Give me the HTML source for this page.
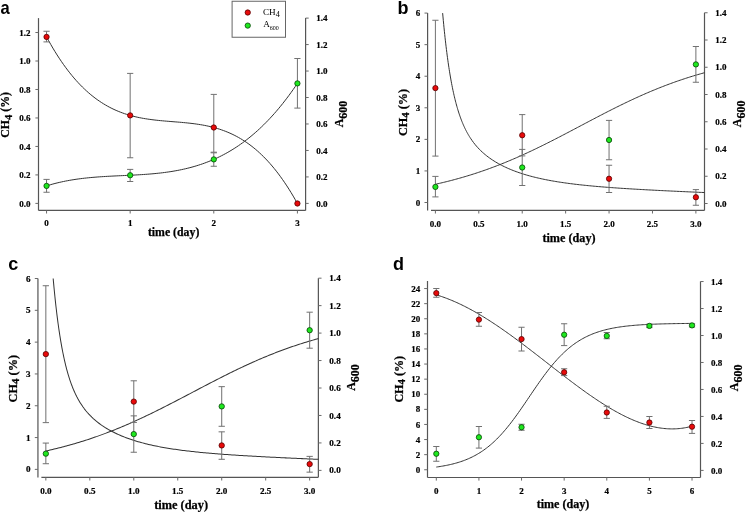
<!DOCTYPE html>
<html><head><meta charset="utf-8"><style>
html,body{margin:0;padding:0;background:#fff;}
body{width:746px;height:512px;overflow:hidden;}
svg{display:block;will-change:transform;}
</style></head><body>
<svg width="746" height="512" viewBox="0 0 746 512">
<rect width="746" height="512" fill="#fff"/>
<line x1="38.50" y1="18.10" x2="38.50" y2="210.40" stroke="#555" stroke-width="1.2"/>
<line x1="38.50" y1="210.40" x2="305.60" y2="210.40" stroke="#555" stroke-width="1.2"/>
<line x1="305.60" y1="18.10" x2="305.60" y2="210.40" stroke="#555" stroke-width="1.2"/>
<line x1="35.40" y1="203.40" x2="38.50" y2="203.40" stroke="#6a6a6a" stroke-width="1.0"/>
<text x="30.50" y="206.50" font-size="9" text-anchor="end" font-weight="bold" font-family='"Liberation Serif", serif' stroke="#000" stroke-width="0.2" >0.0</text>
<line x1="35.40" y1="174.92" x2="38.50" y2="174.92" stroke="#6a6a6a" stroke-width="1.0"/>
<text x="30.50" y="178.02" font-size="9" text-anchor="end" font-weight="bold" font-family='"Liberation Serif", serif' stroke="#000" stroke-width="0.2" >0.2</text>
<line x1="35.40" y1="146.44" x2="38.50" y2="146.44" stroke="#6a6a6a" stroke-width="1.0"/>
<text x="30.50" y="149.54" font-size="9" text-anchor="end" font-weight="bold" font-family='"Liberation Serif", serif' stroke="#000" stroke-width="0.2" >0.4</text>
<line x1="35.40" y1="117.96" x2="38.50" y2="117.96" stroke="#6a6a6a" stroke-width="1.0"/>
<text x="30.50" y="121.06" font-size="9" text-anchor="end" font-weight="bold" font-family='"Liberation Serif", serif' stroke="#000" stroke-width="0.2" >0.6</text>
<line x1="35.40" y1="89.48" x2="38.50" y2="89.48" stroke="#6a6a6a" stroke-width="1.0"/>
<text x="30.50" y="92.58" font-size="9" text-anchor="end" font-weight="bold" font-family='"Liberation Serif", serif' stroke="#000" stroke-width="0.2" >0.8</text>
<line x1="35.40" y1="61.00" x2="38.50" y2="61.00" stroke="#6a6a6a" stroke-width="1.0"/>
<text x="30.50" y="64.10" font-size="9" text-anchor="end" font-weight="bold" font-family='"Liberation Serif", serif' stroke="#000" stroke-width="0.2" >1.0</text>
<line x1="35.40" y1="32.52" x2="38.50" y2="32.52" stroke="#6a6a6a" stroke-width="1.0"/>
<text x="30.50" y="35.62" font-size="9" text-anchor="end" font-weight="bold" font-family='"Liberation Serif", serif' stroke="#000" stroke-width="0.2" >1.2</text>
<line x1="305.60" y1="203.40" x2="308.70" y2="203.40" stroke="#6a6a6a" stroke-width="1.0"/>
<text x="316.30" y="206.50" font-size="9" text-anchor="start" font-weight="bold" font-family='"Liberation Serif", serif' stroke="#000" stroke-width="0.2" >0.0</text>
<line x1="305.60" y1="176.93" x2="308.70" y2="176.93" stroke="#6a6a6a" stroke-width="1.0"/>
<text x="316.30" y="180.03" font-size="9" text-anchor="start" font-weight="bold" font-family='"Liberation Serif", serif' stroke="#000" stroke-width="0.2" >0.2</text>
<line x1="305.60" y1="150.46" x2="308.70" y2="150.46" stroke="#6a6a6a" stroke-width="1.0"/>
<text x="316.30" y="153.56" font-size="9" text-anchor="start" font-weight="bold" font-family='"Liberation Serif", serif' stroke="#000" stroke-width="0.2" >0.4</text>
<line x1="305.60" y1="123.98" x2="308.70" y2="123.98" stroke="#6a6a6a" stroke-width="1.0"/>
<text x="316.30" y="127.08" font-size="9" text-anchor="start" font-weight="bold" font-family='"Liberation Serif", serif' stroke="#000" stroke-width="0.2" >0.6</text>
<line x1="305.60" y1="97.51" x2="308.70" y2="97.51" stroke="#6a6a6a" stroke-width="1.0"/>
<text x="316.30" y="100.61" font-size="9" text-anchor="start" font-weight="bold" font-family='"Liberation Serif", serif' stroke="#000" stroke-width="0.2" >0.8</text>
<line x1="305.60" y1="71.04" x2="308.70" y2="71.04" stroke="#6a6a6a" stroke-width="1.0"/>
<text x="316.30" y="74.14" font-size="9" text-anchor="start" font-weight="bold" font-family='"Liberation Serif", serif' stroke="#000" stroke-width="0.2" >1.0</text>
<line x1="305.60" y1="44.57" x2="308.70" y2="44.57" stroke="#6a6a6a" stroke-width="1.0"/>
<text x="316.30" y="47.67" font-size="9" text-anchor="start" font-weight="bold" font-family='"Liberation Serif", serif' stroke="#000" stroke-width="0.2" >1.2</text>
<line x1="305.60" y1="18.10" x2="308.70" y2="18.10" stroke="#6a6a6a" stroke-width="1.0"/>
<text x="316.30" y="21.20" font-size="9" text-anchor="start" font-weight="bold" font-family='"Liberation Serif", serif' stroke="#000" stroke-width="0.2" >1.4</text>
<line x1="46.55" y1="210.40" x2="46.55" y2="213.50" stroke="#6a6a6a" stroke-width="1.0"/>
<text x="46.55" y="226.00" font-size="9" text-anchor="middle" font-weight="bold" font-family='"Liberation Serif", serif' stroke="#000" stroke-width="0.2" >0</text>
<line x1="130.17" y1="210.40" x2="130.17" y2="213.50" stroke="#6a6a6a" stroke-width="1.0"/>
<text x="130.17" y="226.00" font-size="9" text-anchor="middle" font-weight="bold" font-family='"Liberation Serif", serif' stroke="#000" stroke-width="0.2" >1</text>
<line x1="213.79" y1="210.40" x2="213.79" y2="213.50" stroke="#6a6a6a" stroke-width="1.0"/>
<text x="213.79" y="226.00" font-size="9" text-anchor="middle" font-weight="bold" font-family='"Liberation Serif", serif' stroke="#000" stroke-width="0.2" >2</text>
<line x1="297.41" y1="210.40" x2="297.41" y2="213.50" stroke="#6a6a6a" stroke-width="1.0"/>
<text x="297.41" y="226.00" font-size="9" text-anchor="middle" font-weight="bold" font-family='"Liberation Serif", serif' stroke="#000" stroke-width="0.2" >3</text>
<text x="173.60" y="235.60" font-size="11.8" text-anchor="middle" font-weight="bold" font-family='"Liberation Serif", serif' stroke="#000" stroke-width="0.25" >time (day)</text>
<text transform="translate(9.20,114.90) rotate(-90)" x="0" y="0" font-size="11.8" text-anchor="middle" font-weight="bold" font-family='"Liberation Serif", serif' stroke="#000" stroke-width="0.25">CH<tspan font-size="10.6" dy="2.4">4</tspan><tspan dy="-2.4"> (%)</tspan></text>
<text transform="translate(342.70,114.00) rotate(-90)" x="0" y="0" font-size="12" text-anchor="middle" font-weight="bold" font-family='"Liberation Serif", serif' stroke="#000" stroke-width="0.25">A<tspan font-size="12" dy="4.0">600</tspan></text>
<rect x="232.1" y="1.25" width="53.4" height="36" fill="none" stroke="#666" stroke-width="1"/>
<circle cx="247.75" cy="12.50" r="2.65" fill="#e80a0a" stroke="#580000" stroke-width="0.8"/>
<circle cx="247.75" cy="25.60" r="2.65" fill="#1ee81e" stroke="#084208" stroke-width="0.8"/>
<text x="262.90" y="14.80" font-size="9.2" text-anchor="start" font-weight="normal" font-family='"Liberation Serif", serif' >CH<tspan font-size="8.3" dy="1.9">4</tspan></text>
<text x="263.20" y="27.40" font-size="9.2" text-anchor="start" font-weight="normal" font-family='"Liberation Serif", serif' >A<tspan font-size="6" dy="2.5">600</tspan></text>
<path d="M46.55,36.90 L48.66,40.75 L50.77,44.47 L52.87,48.08 L54.98,51.57 L57.09,54.94 L59.20,58.19 L61.31,61.33 L63.41,64.37 L65.52,67.29 L67.63,70.11 L69.74,72.82 L71.85,75.43 L73.95,77.94 L76.06,80.36 L78.17,82.67 L80.28,84.90 L82.39,87.03 L84.50,89.07 L86.60,91.03 L88.71,92.90 L90.82,94.69 L92.93,96.39 L95.04,98.02 L97.14,99.57 L99.25,101.04 L101.36,102.45 L103.47,103.78 L105.58,105.04 L107.68,106.24 L109.79,107.37 L111.90,108.44 L114.01,109.44 L116.12,110.40 L118.22,111.29 L120.33,112.13 L122.44,112.92 L124.55,113.66 L126.66,114.35 L128.76,114.99 L130.87,115.60 L132.98,116.16 L135.09,116.68 L137.20,117.16 L139.30,117.61 L141.41,118.02 L143.52,118.41 L145.63,118.76 L147.74,119.09 L149.85,119.39 L151.95,119.67 L154.06,119.93 L156.17,120.18 L158.28,120.40 L160.39,120.61 L162.49,120.81 L164.60,121.00 L166.71,121.18 L168.82,121.35 L170.93,121.52 L173.03,121.69 L175.14,121.86 L177.25,122.03 L179.36,122.20 L181.47,122.39 L183.57,122.58 L185.68,122.78 L187.79,122.99 L189.90,123.22 L192.01,123.47 L194.11,123.73 L196.22,124.02 L198.33,124.33 L200.44,124.66 L202.55,125.02 L204.66,125.41 L206.76,125.84 L208.87,126.29 L210.98,126.78 L213.09,127.31 L215.20,127.88 L217.30,128.50 L219.41,129.15 L221.52,129.85 L223.63,130.61 L225.74,131.41 L227.84,132.26 L229.95,133.17 L232.06,134.13 L234.17,135.15 L236.28,136.24 L238.38,137.38 L240.49,138.60 L242.60,139.88 L244.71,141.22 L246.82,142.64 L248.92,144.14 L251.03,145.70 L253.14,147.35 L255.25,149.07 L257.36,150.88 L259.46,152.77 L261.57,154.75 L263.68,156.81 L265.79,158.97 L267.90,161.21 L270.01,163.55 L272.11,165.99 L274.22,168.52 L276.33,171.16 L278.44,173.90 L280.55,176.74 L282.65,179.69 L284.76,182.75 L286.87,185.92 L288.98,189.20 L291.09,192.60 L293.19,196.11 L295.30,199.74 L297.41,203.50" fill="none" stroke="#333" stroke-width="1.0" stroke-linejoin="round"/>
<path d="M46.55,185.90 L48.66,185.25 L50.77,184.63 L52.87,184.04 L54.98,183.48 L57.09,182.95 L59.20,182.45 L61.31,181.97 L63.41,181.52 L65.52,181.09 L67.63,180.69 L69.74,180.31 L71.85,179.95 L73.95,179.61 L76.06,179.29 L78.17,178.99 L80.28,178.71 L82.39,178.45 L84.50,178.20 L86.60,177.97 L88.71,177.76 L90.82,177.55 L92.93,177.37 L95.04,177.19 L97.14,177.02 L99.25,176.87 L101.36,176.73 L103.47,176.59 L105.58,176.46 L107.68,176.34 L109.79,176.23 L111.90,176.12 L114.01,176.01 L116.12,175.91 L118.22,175.81 L120.33,175.71 L122.44,175.61 L124.55,175.52 L126.66,175.42 L128.76,175.32 L130.87,175.22 L132.98,175.11 L135.09,175.00 L137.20,174.88 L139.30,174.76 L141.41,174.63 L143.52,174.49 L145.63,174.35 L147.74,174.19 L149.85,174.02 L151.95,173.85 L154.06,173.66 L156.17,173.45 L158.28,173.23 L160.39,173.00 L162.49,172.75 L164.60,172.48 L166.71,172.20 L168.82,171.90 L170.93,171.58 L173.03,171.24 L175.14,170.87 L177.25,170.49 L179.36,170.08 L181.47,169.65 L183.57,169.19 L185.68,168.71 L187.79,168.20 L189.90,167.66 L192.01,167.10 L194.11,166.51 L196.22,165.88 L198.33,165.23 L200.44,164.54 L202.55,163.82 L204.66,163.07 L206.76,162.28 L208.87,161.46 L210.98,160.60 L213.09,159.71 L215.20,158.77 L217.30,157.80 L219.41,156.79 L221.52,155.74 L223.63,154.64 L225.74,153.51 L227.84,152.33 L229.95,151.10 L232.06,149.84 L234.17,148.52 L236.28,147.16 L238.38,145.75 L240.49,144.29 L242.60,142.79 L244.71,141.23 L246.82,139.62 L248.92,137.96 L251.03,136.25 L253.14,134.48 L255.25,132.66 L257.36,130.79 L259.46,128.85 L261.57,126.86 L263.68,124.81 L265.79,122.70 L267.90,120.54 L270.01,118.31 L272.11,116.02 L274.22,113.66 L276.33,111.25 L278.44,108.77 L280.55,106.22 L282.65,103.61 L284.76,100.93 L286.87,98.18 L288.98,95.37 L291.09,92.48 L293.19,89.53 L295.30,86.50 L297.41,83.40" fill="none" stroke="#333" stroke-width="1.0" stroke-linejoin="round"/>
<line x1="46.55" y1="31.25" x2="46.55" y2="41.90" stroke="#717171" stroke-width="1.0"/>
<line x1="43.45" y1="31.25" x2="49.65" y2="31.25" stroke="#717171" stroke-width="1.0"/>
<line x1="43.45" y1="41.90" x2="49.65" y2="41.90" stroke="#717171" stroke-width="1.0"/>
<line x1="46.55" y1="179.40" x2="46.55" y2="192.25" stroke="#717171" stroke-width="1.0"/>
<line x1="43.45" y1="179.40" x2="49.65" y2="179.40" stroke="#717171" stroke-width="1.0"/>
<line x1="43.45" y1="192.25" x2="49.65" y2="192.25" stroke="#717171" stroke-width="1.0"/>
<line x1="130.17" y1="73.40" x2="130.17" y2="157.75" stroke="#717171" stroke-width="1.0"/>
<line x1="127.07" y1="73.40" x2="133.27" y2="73.40" stroke="#717171" stroke-width="1.0"/>
<line x1="127.07" y1="157.75" x2="133.27" y2="157.75" stroke="#717171" stroke-width="1.0"/>
<line x1="130.17" y1="169.40" x2="130.17" y2="181.50" stroke="#717171" stroke-width="1.0"/>
<line x1="127.07" y1="169.40" x2="133.27" y2="169.40" stroke="#717171" stroke-width="1.0"/>
<line x1="127.07" y1="181.50" x2="133.27" y2="181.50" stroke="#717171" stroke-width="1.0"/>
<line x1="213.79" y1="94.40" x2="213.79" y2="152.20" stroke="#717171" stroke-width="1.0"/>
<line x1="210.69" y1="94.40" x2="216.89" y2="94.40" stroke="#717171" stroke-width="1.0"/>
<line x1="210.69" y1="152.20" x2="216.89" y2="152.20" stroke="#717171" stroke-width="1.0"/>
<line x1="213.79" y1="152.80" x2="213.79" y2="166.25" stroke="#717171" stroke-width="1.0"/>
<line x1="210.69" y1="152.80" x2="216.89" y2="152.80" stroke="#717171" stroke-width="1.0"/>
<line x1="210.69" y1="166.25" x2="216.89" y2="166.25" stroke="#717171" stroke-width="1.0"/>
<line x1="297.41" y1="58.50" x2="297.41" y2="108.10" stroke="#717171" stroke-width="1.0"/>
<line x1="294.31" y1="58.50" x2="300.51" y2="58.50" stroke="#717171" stroke-width="1.0"/>
<line x1="294.31" y1="108.10" x2="300.51" y2="108.10" stroke="#717171" stroke-width="1.0"/>
<circle cx="46.55" cy="36.90" r="2.65" fill="#e80a0a" stroke="#580000" stroke-width="0.8"/>
<circle cx="46.55" cy="185.90" r="2.65" fill="#1ee81e" stroke="#084208" stroke-width="0.8"/>
<circle cx="130.17" cy="115.40" r="2.65" fill="#e80a0a" stroke="#580000" stroke-width="0.8"/>
<circle cx="130.17" cy="175.25" r="2.65" fill="#1ee81e" stroke="#084208" stroke-width="0.8"/>
<circle cx="213.79" cy="127.50" r="2.65" fill="#e80a0a" stroke="#580000" stroke-width="0.8"/>
<circle cx="213.79" cy="159.40" r="2.65" fill="#1ee81e" stroke="#084208" stroke-width="0.8"/>
<circle cx="297.41" cy="203.50" r="2.65" fill="#e80a0a" stroke="#580000" stroke-width="0.8"/>
<circle cx="297.41" cy="83.40" r="2.65" fill="#1ee81e" stroke="#084208" stroke-width="0.8"/>
<text x="0.50" y="13.50" font-size="18" text-anchor="start" font-weight="bold" font-family='"Liberation Sans", sans-serif' transform="translate(0.1,0) scale(0.92,1)">a</text>
<line x1="427.60" y1="13.10" x2="427.60" y2="210.60" stroke="#555" stroke-width="1.2"/>
<line x1="431.00" y1="210.40" x2="704.50" y2="210.40" stroke="#555" stroke-width="1.2"/>
<line x1="704.50" y1="12.75" x2="704.50" y2="210.40" stroke="#555" stroke-width="1.2"/>
<line x1="424.50" y1="202.50" x2="427.60" y2="202.50" stroke="#6a6a6a" stroke-width="1.0"/>
<text x="420.30" y="205.60" font-size="9" text-anchor="end" font-weight="bold" font-family='"Liberation Serif", serif' stroke="#000" stroke-width="0.2" >0</text>
<line x1="424.50" y1="170.93" x2="427.60" y2="170.93" stroke="#6a6a6a" stroke-width="1.0"/>
<text x="420.30" y="174.03" font-size="9" text-anchor="end" font-weight="bold" font-family='"Liberation Serif", serif' stroke="#000" stroke-width="0.2" >1</text>
<line x1="424.50" y1="139.36" x2="427.60" y2="139.36" stroke="#6a6a6a" stroke-width="1.0"/>
<text x="420.30" y="142.46" font-size="9" text-anchor="end" font-weight="bold" font-family='"Liberation Serif", serif' stroke="#000" stroke-width="0.2" >2</text>
<line x1="424.50" y1="107.79" x2="427.60" y2="107.79" stroke="#6a6a6a" stroke-width="1.0"/>
<text x="420.30" y="110.89" font-size="9" text-anchor="end" font-weight="bold" font-family='"Liberation Serif", serif' stroke="#000" stroke-width="0.2" >3</text>
<line x1="424.50" y1="76.22" x2="427.60" y2="76.22" stroke="#6a6a6a" stroke-width="1.0"/>
<text x="420.30" y="79.32" font-size="9" text-anchor="end" font-weight="bold" font-family='"Liberation Serif", serif' stroke="#000" stroke-width="0.2" >4</text>
<line x1="424.50" y1="44.65" x2="427.60" y2="44.65" stroke="#6a6a6a" stroke-width="1.0"/>
<text x="420.30" y="47.75" font-size="9" text-anchor="end" font-weight="bold" font-family='"Liberation Serif", serif' stroke="#000" stroke-width="0.2" >5</text>
<line x1="424.50" y1="13.08" x2="427.60" y2="13.08" stroke="#6a6a6a" stroke-width="1.0"/>
<text x="420.30" y="16.18" font-size="9" text-anchor="end" font-weight="bold" font-family='"Liberation Serif", serif' stroke="#000" stroke-width="0.2" >6</text>
<line x1="704.50" y1="203.50" x2="707.60" y2="203.50" stroke="#6a6a6a" stroke-width="1.0"/>
<text x="715.30" y="206.60" font-size="9" text-anchor="start" font-weight="bold" font-family='"Liberation Serif", serif' stroke="#000" stroke-width="0.2" >0.0</text>
<line x1="704.50" y1="176.25" x2="707.60" y2="176.25" stroke="#6a6a6a" stroke-width="1.0"/>
<text x="715.30" y="179.35" font-size="9" text-anchor="start" font-weight="bold" font-family='"Liberation Serif", serif' stroke="#000" stroke-width="0.2" >0.2</text>
<line x1="704.50" y1="149.00" x2="707.60" y2="149.00" stroke="#6a6a6a" stroke-width="1.0"/>
<text x="715.30" y="152.10" font-size="9" text-anchor="start" font-weight="bold" font-family='"Liberation Serif", serif' stroke="#000" stroke-width="0.2" >0.4</text>
<line x1="704.50" y1="121.75" x2="707.60" y2="121.75" stroke="#6a6a6a" stroke-width="1.0"/>
<text x="715.30" y="124.85" font-size="9" text-anchor="start" font-weight="bold" font-family='"Liberation Serif", serif' stroke="#000" stroke-width="0.2" >0.6</text>
<line x1="704.50" y1="94.50" x2="707.60" y2="94.50" stroke="#6a6a6a" stroke-width="1.0"/>
<text x="715.30" y="97.60" font-size="9" text-anchor="start" font-weight="bold" font-family='"Liberation Serif", serif' stroke="#000" stroke-width="0.2" >0.8</text>
<line x1="704.50" y1="67.25" x2="707.60" y2="67.25" stroke="#6a6a6a" stroke-width="1.0"/>
<text x="715.30" y="70.35" font-size="9" text-anchor="start" font-weight="bold" font-family='"Liberation Serif", serif' stroke="#000" stroke-width="0.2" >1.0</text>
<line x1="704.50" y1="40.00" x2="707.60" y2="40.00" stroke="#6a6a6a" stroke-width="1.0"/>
<text x="715.30" y="43.10" font-size="9" text-anchor="start" font-weight="bold" font-family='"Liberation Serif", serif' stroke="#000" stroke-width="0.2" >1.2</text>
<line x1="704.50" y1="12.75" x2="707.60" y2="12.75" stroke="#6a6a6a" stroke-width="1.0"/>
<text x="715.30" y="15.85" font-size="9" text-anchor="start" font-weight="bold" font-family='"Liberation Serif", serif' stroke="#000" stroke-width="0.2" >1.4</text>
<line x1="435.40" y1="210.40" x2="435.40" y2="213.50" stroke="#6a6a6a" stroke-width="1.0"/>
<text x="435.40" y="226.80" font-size="9" text-anchor="middle" font-weight="bold" font-family='"Liberation Serif", serif' stroke="#000" stroke-width="0.2" >0.0</text>
<line x1="478.81" y1="210.40" x2="478.81" y2="213.50" stroke="#6a6a6a" stroke-width="1.0"/>
<text x="478.81" y="226.80" font-size="9" text-anchor="middle" font-weight="bold" font-family='"Liberation Serif", serif' stroke="#000" stroke-width="0.2" >0.5</text>
<line x1="522.23" y1="210.40" x2="522.23" y2="213.50" stroke="#6a6a6a" stroke-width="1.0"/>
<text x="522.23" y="226.80" font-size="9" text-anchor="middle" font-weight="bold" font-family='"Liberation Serif", serif' stroke="#000" stroke-width="0.2" >1.0</text>
<line x1="565.64" y1="210.40" x2="565.64" y2="213.50" stroke="#6a6a6a" stroke-width="1.0"/>
<text x="565.64" y="226.80" font-size="9" text-anchor="middle" font-weight="bold" font-family='"Liberation Serif", serif' stroke="#000" stroke-width="0.2" >1.5</text>
<line x1="609.06" y1="210.40" x2="609.06" y2="213.50" stroke="#6a6a6a" stroke-width="1.0"/>
<text x="609.06" y="226.80" font-size="9" text-anchor="middle" font-weight="bold" font-family='"Liberation Serif", serif' stroke="#000" stroke-width="0.2" >2.0</text>
<line x1="652.47" y1="210.40" x2="652.47" y2="213.50" stroke="#6a6a6a" stroke-width="1.0"/>
<text x="652.47" y="226.80" font-size="9" text-anchor="middle" font-weight="bold" font-family='"Liberation Serif", serif' stroke="#000" stroke-width="0.2" >2.5</text>
<line x1="695.89" y1="210.40" x2="695.89" y2="213.50" stroke="#6a6a6a" stroke-width="1.0"/>
<text x="695.89" y="226.80" font-size="9" text-anchor="middle" font-weight="bold" font-family='"Liberation Serif", serif' stroke="#000" stroke-width="0.2" >3.0</text>
<text x="569.00" y="241.80" font-size="12.2" text-anchor="middle" font-weight="bold" font-family='"Liberation Serif", serif' stroke="#000" stroke-width="0.25" >time (day)</text>
<text transform="translate(406.60,112.50) rotate(-90)" x="0" y="0" font-size="12.2" text-anchor="middle" font-weight="bold" font-family='"Liberation Serif", serif' stroke="#000" stroke-width="0.25">CH<tspan font-size="10.9" dy="2.4">4</tspan><tspan dy="-2.4"> (%)</tspan></text>
<text transform="translate(741.30,113.85) rotate(-90)" x="0" y="0" font-size="12" text-anchor="middle" font-weight="bold" font-family='"Liberation Serif", serif' stroke="#000" stroke-width="0.25">A<tspan font-size="12" dy="4.0">600</tspan></text>
<path d="M442.64,13.10 L442.99,16.95 L443.33,20.68 L443.68,24.30 L444.03,27.81 L444.37,31.22 L444.72,34.52 L445.06,37.73 L445.41,40.84 L445.76,43.86 L446.10,46.79 L446.45,49.63 L446.80,52.39 L447.14,55.07 L447.49,57.68 L447.83,60.20 L448.18,62.66 L448.53,65.04 L448.87,67.36 L449.22,69.61 L449.57,71.80 L449.91,73.93 L450.26,76.00 L450.61,78.01 L450.95,79.96 L451.30,81.86 L451.64,83.71 L451.99,85.51 L452.34,87.26 L452.68,88.97 L453.03,90.62 L453.38,92.24 L453.72,93.81 L454.07,95.34 L454.42,96.83 L454.76,98.28 L455.11,99.70 L455.45,101.07 L455.80,102.42 L456.15,103.73 L456.49,105.00 L456.84,106.25 L457.19,107.46 L457.53,108.64 L457.88,109.80 L458.22,110.93 L458.57,112.03 L458.92,113.10 L459.26,114.15 L459.61,115.17 L459.96,116.17 L460.30,117.15 L460.65,118.10 L461.00,119.04 L461.34,119.95 L461.69,120.84 L462.03,121.71 L462.38,122.56 L462.73,123.40 L463.07,124.21 L463.42,125.01 L463.77,125.79 L464.11,126.56 L464.46,127.30 L464.81,128.04 L465.15,128.76 L465.50,129.46 L465.84,130.15 L466.19,130.82 L466.54,131.49 L466.88,132.14 L467.23,132.77 L467.58,133.40 L467.92,134.01 L468.27,134.61 L468.61,135.20 L468.96,135.78 L469.31,136.35 L469.65,136.90 L470.00,137.45 L470.50,138.22 L471.97,140.39 L473.44,142.41 L474.92,144.29 L476.39,146.05 L477.86,147.70 L479.33,149.25 L480.80,150.72 L482.27,152.11 L483.75,153.42 L485.22,154.67 L486.69,155.85 L488.16,156.98 L489.63,158.06 L491.10,159.09 L492.58,160.07 L494.05,161.02 L495.52,161.93 L496.99,162.80 L498.46,163.63 L499.93,164.44 L501.41,165.21 L502.88,165.96 L504.35,166.68 L505.82,167.37 L507.29,168.04 L508.76,168.69 L510.24,169.31 L511.71,169.92 L513.18,170.50 L514.65,171.07 L516.12,171.61 L517.59,172.14 L519.07,172.66 L520.54,173.15 L522.01,173.63 L523.48,174.10 L524.95,174.55 L526.42,174.99 L527.90,175.41 L529.37,175.82 L530.84,176.22 L532.31,176.61 L533.78,176.99 L535.25,177.35 L536.73,177.71 L538.20,178.05 L539.67,178.39 L541.14,178.71 L542.61,179.03 L544.08,179.34 L545.56,179.64 L547.03,179.93 L548.50,180.21 L549.97,180.48 L551.44,180.75 L552.92,181.01 L554.39,181.26 L555.86,181.51 L557.33,181.75 L558.80,181.99 L560.27,182.21 L561.75,182.44 L563.22,182.65 L564.69,182.86 L566.16,183.07 L567.63,183.27 L569.10,183.47 L570.58,183.66 L572.05,183.84 L573.52,184.03 L574.99,184.21 L576.46,184.38 L577.93,184.55 L579.41,184.72 L580.88,184.88 L582.35,185.04 L583.82,185.19 L585.29,185.34 L586.76,185.49 L588.24,185.64 L589.71,185.78 L591.18,185.92 L592.65,186.06 L594.12,186.19 L595.59,186.33 L597.07,186.46 L598.54,186.58 L600.01,186.71 L601.48,186.83 L602.95,186.95 L604.42,187.07 L605.90,187.18 L607.37,187.30 L608.84,187.41 L610.31,187.52 L611.78,187.63 L613.25,187.74 L614.73,187.84 L616.20,187.94 L617.67,188.05 L619.14,188.15 L620.61,188.25 L622.08,188.34 L623.56,188.44 L625.03,188.53 L626.50,188.63 L627.97,188.72 L629.44,188.81 L630.92,188.90 L632.39,188.99 L633.86,189.08 L635.33,189.17 L636.80,189.25 L638.27,189.34 L639.75,189.42 L641.22,189.50 L642.69,189.59 L644.16,189.67 L645.63,189.75 L647.10,189.83 L648.58,189.91 L650.05,189.99 L651.52,190.06 L652.99,190.14 L654.46,190.22 L655.93,190.29 L657.41,190.37 L658.88,190.44 L660.35,190.52 L661.82,190.59 L663.29,190.66 L664.76,190.74 L666.24,190.81 L667.71,190.88 L669.18,190.95 L670.65,191.02 L672.12,191.09 L673.59,191.16 L675.07,191.23 L676.54,191.30 L678.01,191.37 L679.48,191.43 L680.95,191.50 L682.42,191.57 L683.90,191.64 L685.37,191.70 L686.84,191.77 L688.31,191.84 L689.78,191.90 L691.25,191.97 L692.73,192.03 L694.20,192.10 L695.67,192.16 L697.14,192.23 L698.61,192.29 L700.08,192.36 L701.56,192.42 L703.03,192.48 L704.50,192.55" fill="none" stroke="#333" stroke-width="1.0" stroke-linejoin="round"/>
<path d="M435.40,184.27 L436.75,183.97 L438.10,183.66 L439.46,183.35 L440.81,183.04 L442.16,182.72 L443.51,182.39 L444.87,182.07 L446.22,181.73 L447.57,181.40 L448.92,181.05 L450.27,180.71 L451.63,180.36 L452.98,180.00 L454.33,179.64 L455.68,179.27 L457.04,178.90 L458.39,178.53 L459.74,178.15 L461.09,177.77 L462.45,177.38 L463.80,176.98 L465.15,176.58 L466.50,176.18 L467.85,175.77 L469.21,175.35 L470.56,174.94 L471.91,174.51 L473.26,174.08 L474.62,173.65 L475.97,173.21 L477.32,172.76 L478.67,172.31 L480.02,171.86 L481.38,171.40 L482.73,170.93 L484.08,170.46 L485.43,169.99 L486.79,169.51 L488.14,169.02 L489.49,168.53 L490.84,168.04 L492.19,167.53 L493.55,167.03 L494.90,166.52 L496.25,166.00 L497.60,165.48 L498.96,164.95 L500.31,164.42 L501.66,163.88 L503.01,163.34 L504.37,162.80 L505.72,162.25 L507.07,161.69 L508.42,161.13 L509.77,160.56 L511.13,159.99 L512.48,159.42 L513.83,158.83 L515.18,158.25 L516.54,157.66 L517.89,157.07 L519.24,156.47 L520.59,155.86 L521.94,155.26 L523.30,154.64 L524.65,154.03 L526.00,153.41 L527.35,152.78 L528.71,152.15 L530.06,151.52 L531.41,150.88 L532.76,150.24 L534.12,149.60 L535.47,148.95 L536.82,148.30 L538.17,147.64 L539.52,146.98 L540.88,146.32 L542.23,145.66 L543.58,144.99 L544.93,144.32 L546.29,143.64 L547.64,142.96 L548.99,142.28 L550.34,141.60 L551.69,140.91 L553.05,140.22 L554.40,139.53 L555.75,138.84 L557.10,138.14 L558.46,137.45 L559.81,136.75 L561.16,136.04 L562.51,135.34 L563.86,134.64 L565.22,133.93 L566.57,133.22 L567.92,132.51 L569.27,131.80 L570.63,131.09 L571.98,130.38 L573.33,129.67 L574.68,128.95 L576.04,128.24 L577.39,127.53 L578.74,126.81 L580.09,126.10 L581.44,125.38 L582.80,124.67 L584.15,123.95 L585.50,123.24 L586.85,122.52 L588.21,121.81 L589.56,121.10 L590.91,120.39 L592.26,119.68 L593.61,118.97 L594.97,118.26 L596.32,117.55 L597.67,116.84 L599.02,116.14 L600.38,115.44 L601.73,114.74 L603.08,114.04 L604.43,113.34 L605.78,112.65 L607.14,111.95 L608.49,111.26 L609.84,110.58 L611.19,109.89 L612.55,109.21 L613.90,108.53 L615.25,107.85 L616.60,107.18 L617.96,106.51 L619.31,105.84 L620.66,105.18 L622.01,104.52 L623.36,103.86 L624.72,103.20 L626.07,102.55 L627.42,101.91 L628.77,101.26 L630.13,100.63 L631.48,99.99 L632.83,99.36 L634.18,98.73 L635.53,98.11 L636.89,97.49 L638.24,96.88 L639.59,96.27 L640.94,95.66 L642.30,95.06 L643.65,94.46 L645.00,93.87 L646.35,93.28 L647.71,92.70 L649.06,92.12 L650.41,91.55 L651.76,90.98 L653.11,90.41 L654.47,89.86 L655.82,89.30 L657.17,88.75 L658.52,88.21 L659.88,87.67 L661.23,87.13 L662.58,86.60 L663.93,86.08 L665.28,85.56 L666.64,85.05 L667.99,84.54 L669.34,84.03 L670.69,83.54 L672.05,83.04 L673.40,82.55 L674.75,82.07 L676.10,81.59 L677.45,81.12 L678.81,80.65 L680.16,80.19 L681.51,79.73 L682.86,79.28 L684.22,78.83 L685.57,78.39 L686.92,77.95 L688.27,77.52 L689.63,77.09 L690.98,76.67 L692.33,76.25 L693.68,75.84 L695.03,75.43 L696.39,75.03 L697.74,74.63 L699.09,74.24 L700.44,73.85 L701.80,73.47 L703.15,73.09 L704.50,72.72" fill="none" stroke="#333" stroke-width="1.0" stroke-linejoin="round"/>
<line x1="435.40" y1="20.25" x2="435.40" y2="156.10" stroke="#717171" stroke-width="1.0"/>
<line x1="432.30" y1="20.25" x2="438.50" y2="20.25" stroke="#717171" stroke-width="1.0"/>
<line x1="432.30" y1="156.10" x2="438.50" y2="156.10" stroke="#717171" stroke-width="1.0"/>
<line x1="435.40" y1="176.40" x2="435.40" y2="196.90" stroke="#717171" stroke-width="1.0"/>
<line x1="432.30" y1="176.40" x2="438.50" y2="176.40" stroke="#717171" stroke-width="1.0"/>
<line x1="432.30" y1="196.90" x2="438.50" y2="196.90" stroke="#717171" stroke-width="1.0"/>
<line x1="522.23" y1="114.60" x2="522.23" y2="155.90" stroke="#717171" stroke-width="1.0"/>
<line x1="519.13" y1="114.60" x2="525.33" y2="114.60" stroke="#717171" stroke-width="1.0"/>
<line x1="519.13" y1="155.90" x2="525.33" y2="155.90" stroke="#717171" stroke-width="1.0"/>
<line x1="522.23" y1="149.40" x2="522.23" y2="185.50" stroke="#717171" stroke-width="1.0"/>
<line x1="519.13" y1="149.40" x2="525.33" y2="149.40" stroke="#717171" stroke-width="1.0"/>
<line x1="519.13" y1="185.50" x2="525.33" y2="185.50" stroke="#717171" stroke-width="1.0"/>
<line x1="609.06" y1="165.25" x2="609.06" y2="192.50" stroke="#717171" stroke-width="1.0"/>
<line x1="605.96" y1="165.25" x2="612.16" y2="165.25" stroke="#717171" stroke-width="1.0"/>
<line x1="605.96" y1="192.50" x2="612.16" y2="192.50" stroke="#717171" stroke-width="1.0"/>
<line x1="609.06" y1="120.40" x2="609.06" y2="159.75" stroke="#717171" stroke-width="1.0"/>
<line x1="605.96" y1="120.40" x2="612.16" y2="120.40" stroke="#717171" stroke-width="1.0"/>
<line x1="605.96" y1="159.75" x2="612.16" y2="159.75" stroke="#717171" stroke-width="1.0"/>
<line x1="695.89" y1="189.60" x2="695.89" y2="205.25" stroke="#717171" stroke-width="1.0"/>
<line x1="692.79" y1="189.60" x2="698.99" y2="189.60" stroke="#717171" stroke-width="1.0"/>
<line x1="692.79" y1="205.25" x2="698.99" y2="205.25" stroke="#717171" stroke-width="1.0"/>
<line x1="695.89" y1="46.50" x2="695.89" y2="82.25" stroke="#717171" stroke-width="1.0"/>
<line x1="692.79" y1="46.50" x2="698.99" y2="46.50" stroke="#717171" stroke-width="1.0"/>
<line x1="692.79" y1="82.25" x2="698.99" y2="82.25" stroke="#717171" stroke-width="1.0"/>
<circle cx="435.40" cy="88.10" r="2.65" fill="#e80a0a" stroke="#580000" stroke-width="0.8"/>
<circle cx="435.40" cy="186.90" r="2.65" fill="#1ee81e" stroke="#084208" stroke-width="0.8"/>
<circle cx="522.23" cy="135.25" r="2.65" fill="#e80a0a" stroke="#580000" stroke-width="0.8"/>
<circle cx="522.23" cy="167.50" r="2.65" fill="#1ee81e" stroke="#084208" stroke-width="0.8"/>
<circle cx="609.06" cy="178.75" r="2.65" fill="#e80a0a" stroke="#580000" stroke-width="0.8"/>
<circle cx="609.06" cy="140.00" r="2.65" fill="#1ee81e" stroke="#084208" stroke-width="0.8"/>
<circle cx="695.89" cy="197.25" r="2.65" fill="#e80a0a" stroke="#580000" stroke-width="0.8"/>
<circle cx="695.89" cy="64.40" r="2.65" fill="#1ee81e" stroke="#084208" stroke-width="0.8"/>
<text x="397.50" y="13.75" font-size="18" text-anchor="start" font-weight="bold" font-family='"Liberation Sans", sans-serif' >b</text>
<g transform="translate(-395.123,265.322) scale(1.01277,1.00764)">
<line x1="427.60" y1="13.10" x2="427.60" y2="210.60" stroke="#555" stroke-width="1.2"/>
<line x1="431.00" y1="210.40" x2="704.50" y2="210.40" stroke="#555" stroke-width="1.2"/>
<line x1="704.50" y1="12.75" x2="704.50" y2="210.40" stroke="#555" stroke-width="1.2"/>
<line x1="424.50" y1="202.50" x2="427.60" y2="202.50" stroke="#6a6a6a" stroke-width="1.0"/>
<text x="420.30" y="205.60" font-size="9" text-anchor="end" font-weight="bold" font-family='"Liberation Serif", serif' stroke="#000" stroke-width="0.2" >0</text>
<line x1="424.50" y1="170.93" x2="427.60" y2="170.93" stroke="#6a6a6a" stroke-width="1.0"/>
<text x="420.30" y="174.03" font-size="9" text-anchor="end" font-weight="bold" font-family='"Liberation Serif", serif' stroke="#000" stroke-width="0.2" >1</text>
<line x1="424.50" y1="139.36" x2="427.60" y2="139.36" stroke="#6a6a6a" stroke-width="1.0"/>
<text x="420.30" y="142.46" font-size="9" text-anchor="end" font-weight="bold" font-family='"Liberation Serif", serif' stroke="#000" stroke-width="0.2" >2</text>
<line x1="424.50" y1="107.79" x2="427.60" y2="107.79" stroke="#6a6a6a" stroke-width="1.0"/>
<text x="420.30" y="110.89" font-size="9" text-anchor="end" font-weight="bold" font-family='"Liberation Serif", serif' stroke="#000" stroke-width="0.2" >3</text>
<line x1="424.50" y1="76.22" x2="427.60" y2="76.22" stroke="#6a6a6a" stroke-width="1.0"/>
<text x="420.30" y="79.32" font-size="9" text-anchor="end" font-weight="bold" font-family='"Liberation Serif", serif' stroke="#000" stroke-width="0.2" >4</text>
<line x1="424.50" y1="44.65" x2="427.60" y2="44.65" stroke="#6a6a6a" stroke-width="1.0"/>
<text x="420.30" y="47.75" font-size="9" text-anchor="end" font-weight="bold" font-family='"Liberation Serif", serif' stroke="#000" stroke-width="0.2" >5</text>
<line x1="424.50" y1="13.08" x2="427.60" y2="13.08" stroke="#6a6a6a" stroke-width="1.0"/>
<text x="420.30" y="16.18" font-size="9" text-anchor="end" font-weight="bold" font-family='"Liberation Serif", serif' stroke="#000" stroke-width="0.2" >6</text>
<line x1="704.50" y1="203.50" x2="707.60" y2="203.50" stroke="#6a6a6a" stroke-width="1.0"/>
<text x="715.30" y="206.60" font-size="9" text-anchor="start" font-weight="bold" font-family='"Liberation Serif", serif' stroke="#000" stroke-width="0.2" >0.0</text>
<line x1="704.50" y1="176.25" x2="707.60" y2="176.25" stroke="#6a6a6a" stroke-width="1.0"/>
<text x="715.30" y="179.35" font-size="9" text-anchor="start" font-weight="bold" font-family='"Liberation Serif", serif' stroke="#000" stroke-width="0.2" >0.2</text>
<line x1="704.50" y1="149.00" x2="707.60" y2="149.00" stroke="#6a6a6a" stroke-width="1.0"/>
<text x="715.30" y="152.10" font-size="9" text-anchor="start" font-weight="bold" font-family='"Liberation Serif", serif' stroke="#000" stroke-width="0.2" >0.4</text>
<line x1="704.50" y1="121.75" x2="707.60" y2="121.75" stroke="#6a6a6a" stroke-width="1.0"/>
<text x="715.30" y="124.85" font-size="9" text-anchor="start" font-weight="bold" font-family='"Liberation Serif", serif' stroke="#000" stroke-width="0.2" >0.6</text>
<line x1="704.50" y1="94.50" x2="707.60" y2="94.50" stroke="#6a6a6a" stroke-width="1.0"/>
<text x="715.30" y="97.60" font-size="9" text-anchor="start" font-weight="bold" font-family='"Liberation Serif", serif' stroke="#000" stroke-width="0.2" >0.8</text>
<line x1="704.50" y1="67.25" x2="707.60" y2="67.25" stroke="#6a6a6a" stroke-width="1.0"/>
<text x="715.30" y="70.35" font-size="9" text-anchor="start" font-weight="bold" font-family='"Liberation Serif", serif' stroke="#000" stroke-width="0.2" >1.0</text>
<line x1="704.50" y1="40.00" x2="707.60" y2="40.00" stroke="#6a6a6a" stroke-width="1.0"/>
<text x="715.30" y="43.10" font-size="9" text-anchor="start" font-weight="bold" font-family='"Liberation Serif", serif' stroke="#000" stroke-width="0.2" >1.2</text>
<line x1="704.50" y1="12.75" x2="707.60" y2="12.75" stroke="#6a6a6a" stroke-width="1.0"/>
<text x="715.30" y="15.85" font-size="9" text-anchor="start" font-weight="bold" font-family='"Liberation Serif", serif' stroke="#000" stroke-width="0.2" >1.4</text>
<line x1="435.40" y1="210.40" x2="435.40" y2="213.50" stroke="#6a6a6a" stroke-width="1.0"/>
<text x="435.40" y="226.80" font-size="9" text-anchor="middle" font-weight="bold" font-family='"Liberation Serif", serif' stroke="#000" stroke-width="0.2" >0.0</text>
<line x1="478.81" y1="210.40" x2="478.81" y2="213.50" stroke="#6a6a6a" stroke-width="1.0"/>
<text x="478.81" y="226.80" font-size="9" text-anchor="middle" font-weight="bold" font-family='"Liberation Serif", serif' stroke="#000" stroke-width="0.2" >0.5</text>
<line x1="522.23" y1="210.40" x2="522.23" y2="213.50" stroke="#6a6a6a" stroke-width="1.0"/>
<text x="522.23" y="226.80" font-size="9" text-anchor="middle" font-weight="bold" font-family='"Liberation Serif", serif' stroke="#000" stroke-width="0.2" >1.0</text>
<line x1="565.64" y1="210.40" x2="565.64" y2="213.50" stroke="#6a6a6a" stroke-width="1.0"/>
<text x="565.64" y="226.80" font-size="9" text-anchor="middle" font-weight="bold" font-family='"Liberation Serif", serif' stroke="#000" stroke-width="0.2" >1.5</text>
<line x1="609.06" y1="210.40" x2="609.06" y2="213.50" stroke="#6a6a6a" stroke-width="1.0"/>
<text x="609.06" y="226.80" font-size="9" text-anchor="middle" font-weight="bold" font-family='"Liberation Serif", serif' stroke="#000" stroke-width="0.2" >2.0</text>
<line x1="652.47" y1="210.40" x2="652.47" y2="213.50" stroke="#6a6a6a" stroke-width="1.0"/>
<text x="652.47" y="226.80" font-size="9" text-anchor="middle" font-weight="bold" font-family='"Liberation Serif", serif' stroke="#000" stroke-width="0.2" >2.5</text>
<line x1="695.89" y1="210.40" x2="695.89" y2="213.50" stroke="#6a6a6a" stroke-width="1.0"/>
<text x="695.89" y="226.80" font-size="9" text-anchor="middle" font-weight="bold" font-family='"Liberation Serif", serif' stroke="#000" stroke-width="0.2" >3.0</text>
<text x="569.00" y="241.80" font-size="12.2" text-anchor="middle" font-weight="bold" font-family='"Liberation Serif", serif' stroke="#000" stroke-width="0.25" >time (day)</text>
<text transform="translate(406.60,112.50) rotate(-90)" x="0" y="0" font-size="12.2" text-anchor="middle" font-weight="bold" font-family='"Liberation Serif", serif' stroke="#000" stroke-width="0.25">CH<tspan font-size="10.9" dy="2.4">4</tspan><tspan dy="-2.4"> (%)</tspan></text>
<path d="M442.64,13.10 L442.99,16.95 L443.33,20.68 L443.68,24.30 L444.03,27.81 L444.37,31.22 L444.72,34.52 L445.06,37.73 L445.41,40.84 L445.76,43.86 L446.10,46.79 L446.45,49.63 L446.80,52.39 L447.14,55.07 L447.49,57.68 L447.83,60.20 L448.18,62.66 L448.53,65.04 L448.87,67.36 L449.22,69.61 L449.57,71.80 L449.91,73.93 L450.26,76.00 L450.61,78.01 L450.95,79.96 L451.30,81.86 L451.64,83.71 L451.99,85.51 L452.34,87.26 L452.68,88.97 L453.03,90.62 L453.38,92.24 L453.72,93.81 L454.07,95.34 L454.42,96.83 L454.76,98.28 L455.11,99.70 L455.45,101.07 L455.80,102.42 L456.15,103.73 L456.49,105.00 L456.84,106.25 L457.19,107.46 L457.53,108.64 L457.88,109.80 L458.22,110.93 L458.57,112.03 L458.92,113.10 L459.26,114.15 L459.61,115.17 L459.96,116.17 L460.30,117.15 L460.65,118.10 L461.00,119.04 L461.34,119.95 L461.69,120.84 L462.03,121.71 L462.38,122.56 L462.73,123.40 L463.07,124.21 L463.42,125.01 L463.77,125.79 L464.11,126.56 L464.46,127.30 L464.81,128.04 L465.15,128.76 L465.50,129.46 L465.84,130.15 L466.19,130.82 L466.54,131.49 L466.88,132.14 L467.23,132.77 L467.58,133.40 L467.92,134.01 L468.27,134.61 L468.61,135.20 L468.96,135.78 L469.31,136.35 L469.65,136.90 L470.00,137.45 L470.50,138.22 L471.97,140.39 L473.44,142.41 L474.92,144.29 L476.39,146.05 L477.86,147.70 L479.33,149.25 L480.80,150.72 L482.27,152.11 L483.75,153.42 L485.22,154.67 L486.69,155.85 L488.16,156.98 L489.63,158.06 L491.10,159.09 L492.58,160.07 L494.05,161.02 L495.52,161.93 L496.99,162.80 L498.46,163.63 L499.93,164.44 L501.41,165.21 L502.88,165.96 L504.35,166.68 L505.82,167.37 L507.29,168.04 L508.76,168.69 L510.24,169.31 L511.71,169.92 L513.18,170.50 L514.65,171.07 L516.12,171.61 L517.59,172.14 L519.07,172.66 L520.54,173.15 L522.01,173.63 L523.48,174.10 L524.95,174.55 L526.42,174.99 L527.90,175.41 L529.37,175.82 L530.84,176.22 L532.31,176.61 L533.78,176.99 L535.25,177.35 L536.73,177.71 L538.20,178.05 L539.67,178.39 L541.14,178.71 L542.61,179.03 L544.08,179.34 L545.56,179.64 L547.03,179.93 L548.50,180.21 L549.97,180.48 L551.44,180.75 L552.92,181.01 L554.39,181.26 L555.86,181.51 L557.33,181.75 L558.80,181.99 L560.27,182.21 L561.75,182.44 L563.22,182.65 L564.69,182.86 L566.16,183.07 L567.63,183.27 L569.10,183.47 L570.58,183.66 L572.05,183.84 L573.52,184.03 L574.99,184.21 L576.46,184.38 L577.93,184.55 L579.41,184.72 L580.88,184.88 L582.35,185.04 L583.82,185.19 L585.29,185.34 L586.76,185.49 L588.24,185.64 L589.71,185.78 L591.18,185.92 L592.65,186.06 L594.12,186.19 L595.59,186.33 L597.07,186.46 L598.54,186.58 L600.01,186.71 L601.48,186.83 L602.95,186.95 L604.42,187.07 L605.90,187.18 L607.37,187.30 L608.84,187.41 L610.31,187.52 L611.78,187.63 L613.25,187.74 L614.73,187.84 L616.20,187.94 L617.67,188.05 L619.14,188.15 L620.61,188.25 L622.08,188.34 L623.56,188.44 L625.03,188.53 L626.50,188.63 L627.97,188.72 L629.44,188.81 L630.92,188.90 L632.39,188.99 L633.86,189.08 L635.33,189.17 L636.80,189.25 L638.27,189.34 L639.75,189.42 L641.22,189.50 L642.69,189.59 L644.16,189.67 L645.63,189.75 L647.10,189.83 L648.58,189.91 L650.05,189.99 L651.52,190.06 L652.99,190.14 L654.46,190.22 L655.93,190.29 L657.41,190.37 L658.88,190.44 L660.35,190.52 L661.82,190.59 L663.29,190.66 L664.76,190.74 L666.24,190.81 L667.71,190.88 L669.18,190.95 L670.65,191.02 L672.12,191.09 L673.59,191.16 L675.07,191.23 L676.54,191.30 L678.01,191.37 L679.48,191.43 L680.95,191.50 L682.42,191.57 L683.90,191.64 L685.37,191.70 L686.84,191.77 L688.31,191.84 L689.78,191.90 L691.25,191.97 L692.73,192.03 L694.20,192.10 L695.67,192.16 L697.14,192.23 L698.61,192.29 L700.08,192.36 L701.56,192.42 L703.03,192.48 L704.50,192.55" fill="none" stroke="#333" stroke-width="1.0" stroke-linejoin="round"/>
<path d="M435.40,184.27 L436.75,183.97 L438.10,183.66 L439.46,183.35 L440.81,183.04 L442.16,182.72 L443.51,182.39 L444.87,182.07 L446.22,181.73 L447.57,181.40 L448.92,181.05 L450.27,180.71 L451.63,180.36 L452.98,180.00 L454.33,179.64 L455.68,179.27 L457.04,178.90 L458.39,178.53 L459.74,178.15 L461.09,177.77 L462.45,177.38 L463.80,176.98 L465.15,176.58 L466.50,176.18 L467.85,175.77 L469.21,175.35 L470.56,174.94 L471.91,174.51 L473.26,174.08 L474.62,173.65 L475.97,173.21 L477.32,172.76 L478.67,172.31 L480.02,171.86 L481.38,171.40 L482.73,170.93 L484.08,170.46 L485.43,169.99 L486.79,169.51 L488.14,169.02 L489.49,168.53 L490.84,168.04 L492.19,167.53 L493.55,167.03 L494.90,166.52 L496.25,166.00 L497.60,165.48 L498.96,164.95 L500.31,164.42 L501.66,163.88 L503.01,163.34 L504.37,162.80 L505.72,162.25 L507.07,161.69 L508.42,161.13 L509.77,160.56 L511.13,159.99 L512.48,159.42 L513.83,158.83 L515.18,158.25 L516.54,157.66 L517.89,157.07 L519.24,156.47 L520.59,155.86 L521.94,155.26 L523.30,154.64 L524.65,154.03 L526.00,153.41 L527.35,152.78 L528.71,152.15 L530.06,151.52 L531.41,150.88 L532.76,150.24 L534.12,149.60 L535.47,148.95 L536.82,148.30 L538.17,147.64 L539.52,146.98 L540.88,146.32 L542.23,145.66 L543.58,144.99 L544.93,144.32 L546.29,143.64 L547.64,142.96 L548.99,142.28 L550.34,141.60 L551.69,140.91 L553.05,140.22 L554.40,139.53 L555.75,138.84 L557.10,138.14 L558.46,137.45 L559.81,136.75 L561.16,136.04 L562.51,135.34 L563.86,134.64 L565.22,133.93 L566.57,133.22 L567.92,132.51 L569.27,131.80 L570.63,131.09 L571.98,130.38 L573.33,129.67 L574.68,128.95 L576.04,128.24 L577.39,127.53 L578.74,126.81 L580.09,126.10 L581.44,125.38 L582.80,124.67 L584.15,123.95 L585.50,123.24 L586.85,122.52 L588.21,121.81 L589.56,121.10 L590.91,120.39 L592.26,119.68 L593.61,118.97 L594.97,118.26 L596.32,117.55 L597.67,116.84 L599.02,116.14 L600.38,115.44 L601.73,114.74 L603.08,114.04 L604.43,113.34 L605.78,112.65 L607.14,111.95 L608.49,111.26 L609.84,110.58 L611.19,109.89 L612.55,109.21 L613.90,108.53 L615.25,107.85 L616.60,107.18 L617.96,106.51 L619.31,105.84 L620.66,105.18 L622.01,104.52 L623.36,103.86 L624.72,103.20 L626.07,102.55 L627.42,101.91 L628.77,101.26 L630.13,100.63 L631.48,99.99 L632.83,99.36 L634.18,98.73 L635.53,98.11 L636.89,97.49 L638.24,96.88 L639.59,96.27 L640.94,95.66 L642.30,95.06 L643.65,94.46 L645.00,93.87 L646.35,93.28 L647.71,92.70 L649.06,92.12 L650.41,91.55 L651.76,90.98 L653.11,90.41 L654.47,89.86 L655.82,89.30 L657.17,88.75 L658.52,88.21 L659.88,87.67 L661.23,87.13 L662.58,86.60 L663.93,86.08 L665.28,85.56 L666.64,85.05 L667.99,84.54 L669.34,84.03 L670.69,83.54 L672.05,83.04 L673.40,82.55 L674.75,82.07 L676.10,81.59 L677.45,81.12 L678.81,80.65 L680.16,80.19 L681.51,79.73 L682.86,79.28 L684.22,78.83 L685.57,78.39 L686.92,77.95 L688.27,77.52 L689.63,77.09 L690.98,76.67 L692.33,76.25 L693.68,75.84 L695.03,75.43 L696.39,75.03 L697.74,74.63 L699.09,74.24 L700.44,73.85 L701.80,73.47 L703.15,73.09 L704.50,72.72" fill="none" stroke="#333" stroke-width="1.0" stroke-linejoin="round"/>
<line x1="435.40" y1="20.25" x2="435.40" y2="156.10" stroke="#717171" stroke-width="1.0"/>
<line x1="432.30" y1="20.25" x2="438.50" y2="20.25" stroke="#717171" stroke-width="1.0"/>
<line x1="432.30" y1="156.10" x2="438.50" y2="156.10" stroke="#717171" stroke-width="1.0"/>
<line x1="435.40" y1="176.40" x2="435.40" y2="196.90" stroke="#717171" stroke-width="1.0"/>
<line x1="432.30" y1="176.40" x2="438.50" y2="176.40" stroke="#717171" stroke-width="1.0"/>
<line x1="432.30" y1="196.90" x2="438.50" y2="196.90" stroke="#717171" stroke-width="1.0"/>
<line x1="522.23" y1="114.60" x2="522.23" y2="155.90" stroke="#717171" stroke-width="1.0"/>
<line x1="519.13" y1="114.60" x2="525.33" y2="114.60" stroke="#717171" stroke-width="1.0"/>
<line x1="519.13" y1="155.90" x2="525.33" y2="155.90" stroke="#717171" stroke-width="1.0"/>
<line x1="522.23" y1="149.40" x2="522.23" y2="185.50" stroke="#717171" stroke-width="1.0"/>
<line x1="519.13" y1="149.40" x2="525.33" y2="149.40" stroke="#717171" stroke-width="1.0"/>
<line x1="519.13" y1="185.50" x2="525.33" y2="185.50" stroke="#717171" stroke-width="1.0"/>
<line x1="609.06" y1="165.25" x2="609.06" y2="192.50" stroke="#717171" stroke-width="1.0"/>
<line x1="605.96" y1="165.25" x2="612.16" y2="165.25" stroke="#717171" stroke-width="1.0"/>
<line x1="605.96" y1="192.50" x2="612.16" y2="192.50" stroke="#717171" stroke-width="1.0"/>
<line x1="609.06" y1="120.40" x2="609.06" y2="159.75" stroke="#717171" stroke-width="1.0"/>
<line x1="605.96" y1="120.40" x2="612.16" y2="120.40" stroke="#717171" stroke-width="1.0"/>
<line x1="605.96" y1="159.75" x2="612.16" y2="159.75" stroke="#717171" stroke-width="1.0"/>
<line x1="695.89" y1="189.60" x2="695.89" y2="205.25" stroke="#717171" stroke-width="1.0"/>
<line x1="692.79" y1="189.60" x2="698.99" y2="189.60" stroke="#717171" stroke-width="1.0"/>
<line x1="692.79" y1="205.25" x2="698.99" y2="205.25" stroke="#717171" stroke-width="1.0"/>
<line x1="695.89" y1="46.50" x2="695.89" y2="82.25" stroke="#717171" stroke-width="1.0"/>
<line x1="692.79" y1="46.50" x2="698.99" y2="46.50" stroke="#717171" stroke-width="1.0"/>
<line x1="692.79" y1="82.25" x2="698.99" y2="82.25" stroke="#717171" stroke-width="1.0"/>
<circle cx="435.40" cy="88.10" r="2.65" fill="#e80a0a" stroke="#580000" stroke-width="0.8"/>
<circle cx="435.40" cy="186.90" r="2.65" fill="#1ee81e" stroke="#084208" stroke-width="0.8"/>
<circle cx="522.23" cy="135.25" r="2.65" fill="#e80a0a" stroke="#580000" stroke-width="0.8"/>
<circle cx="522.23" cy="167.50" r="2.65" fill="#1ee81e" stroke="#084208" stroke-width="0.8"/>
<circle cx="609.06" cy="178.75" r="2.65" fill="#e80a0a" stroke="#580000" stroke-width="0.8"/>
<circle cx="609.06" cy="140.00" r="2.65" fill="#1ee81e" stroke="#084208" stroke-width="0.8"/>
<circle cx="695.89" cy="197.25" r="2.65" fill="#e80a0a" stroke="#580000" stroke-width="0.8"/>
<circle cx="695.89" cy="64.40" r="2.65" fill="#1ee81e" stroke="#084208" stroke-width="0.8"/>
</g>
<text transform="translate(355.30,377.50) rotate(-90)" x="0" y="0" font-size="12" text-anchor="middle" font-weight="bold" font-family='"Liberation Serif", serif' stroke="#000" stroke-width="0.25">A<tspan font-size="12" dy="4.0">600</tspan></text>
<text x="8.30" y="270.00" font-size="18" text-anchor="start" font-weight="bold" font-family='"Liberation Sans", sans-serif' >c</text>
<line x1="427.50" y1="281.00" x2="427.50" y2="477.50" stroke="#555" stroke-width="1.2"/>
<line x1="427.50" y1="477.50" x2="700.50" y2="477.50" stroke="#555" stroke-width="1.2"/>
<line x1="700.50" y1="281.40" x2="700.50" y2="477.50" stroke="#555" stroke-width="1.2"/>
<line x1="424.20" y1="469.75" x2="427.50" y2="469.75" stroke="#6a6a6a" stroke-width="1.0"/>
<text x="420.20" y="472.85" font-size="9" text-anchor="end" font-weight="bold" font-family='"Liberation Serif", serif' stroke="#000" stroke-width="0.2" >0</text>
<line x1="424.20" y1="454.65" x2="427.50" y2="454.65" stroke="#6a6a6a" stroke-width="1.0"/>
<text x="420.20" y="457.75" font-size="9" text-anchor="end" font-weight="bold" font-family='"Liberation Serif", serif' stroke="#000" stroke-width="0.2" >2</text>
<line x1="424.20" y1="439.55" x2="427.50" y2="439.55" stroke="#6a6a6a" stroke-width="1.0"/>
<text x="420.20" y="442.65" font-size="9" text-anchor="end" font-weight="bold" font-family='"Liberation Serif", serif' stroke="#000" stroke-width="0.2" >4</text>
<line x1="424.20" y1="424.45" x2="427.50" y2="424.45" stroke="#6a6a6a" stroke-width="1.0"/>
<text x="420.20" y="427.55" font-size="9" text-anchor="end" font-weight="bold" font-family='"Liberation Serif", serif' stroke="#000" stroke-width="0.2" >6</text>
<line x1="424.20" y1="409.35" x2="427.50" y2="409.35" stroke="#6a6a6a" stroke-width="1.0"/>
<text x="420.20" y="412.45" font-size="9" text-anchor="end" font-weight="bold" font-family='"Liberation Serif", serif' stroke="#000" stroke-width="0.2" >8</text>
<line x1="424.20" y1="394.25" x2="427.50" y2="394.25" stroke="#6a6a6a" stroke-width="1.0"/>
<text x="420.20" y="397.35" font-size="9" text-anchor="end" font-weight="bold" font-family='"Liberation Serif", serif' stroke="#000" stroke-width="0.2" >10</text>
<line x1="424.20" y1="379.15" x2="427.50" y2="379.15" stroke="#6a6a6a" stroke-width="1.0"/>
<text x="420.20" y="382.25" font-size="9" text-anchor="end" font-weight="bold" font-family='"Liberation Serif", serif' stroke="#000" stroke-width="0.2" >12</text>
<line x1="424.20" y1="364.05" x2="427.50" y2="364.05" stroke="#6a6a6a" stroke-width="1.0"/>
<text x="420.20" y="367.15" font-size="9" text-anchor="end" font-weight="bold" font-family='"Liberation Serif", serif' stroke="#000" stroke-width="0.2" >14</text>
<line x1="424.20" y1="348.95" x2="427.50" y2="348.95" stroke="#6a6a6a" stroke-width="1.0"/>
<text x="420.20" y="352.05" font-size="9" text-anchor="end" font-weight="bold" font-family='"Liberation Serif", serif' stroke="#000" stroke-width="0.2" >16</text>
<line x1="424.20" y1="333.85" x2="427.50" y2="333.85" stroke="#6a6a6a" stroke-width="1.0"/>
<text x="420.20" y="336.95" font-size="9" text-anchor="end" font-weight="bold" font-family='"Liberation Serif", serif' stroke="#000" stroke-width="0.2" >18</text>
<line x1="424.20" y1="318.75" x2="427.50" y2="318.75" stroke="#6a6a6a" stroke-width="1.0"/>
<text x="420.20" y="321.85" font-size="9" text-anchor="end" font-weight="bold" font-family='"Liberation Serif", serif' stroke="#000" stroke-width="0.2" >20</text>
<line x1="424.20" y1="303.65" x2="427.50" y2="303.65" stroke="#6a6a6a" stroke-width="1.0"/>
<text x="420.20" y="306.75" font-size="9" text-anchor="end" font-weight="bold" font-family='"Liberation Serif", serif' stroke="#000" stroke-width="0.2" >22</text>
<line x1="424.20" y1="288.55" x2="427.50" y2="288.55" stroke="#6a6a6a" stroke-width="1.0"/>
<text x="420.20" y="291.65" font-size="9" text-anchor="end" font-weight="bold" font-family='"Liberation Serif", serif' stroke="#000" stroke-width="0.2" >24</text>
<line x1="700.50" y1="470.40" x2="703.60" y2="470.40" stroke="#6a6a6a" stroke-width="1.0"/>
<text x="710.90" y="473.50" font-size="9" text-anchor="start" font-weight="bold" font-family='"Liberation Serif", serif' stroke="#000" stroke-width="0.2" >0.0</text>
<line x1="700.50" y1="443.42" x2="703.60" y2="443.42" stroke="#6a6a6a" stroke-width="1.0"/>
<text x="710.90" y="446.52" font-size="9" text-anchor="start" font-weight="bold" font-family='"Liberation Serif", serif' stroke="#000" stroke-width="0.2" >0.2</text>
<line x1="700.50" y1="416.44" x2="703.60" y2="416.44" stroke="#6a6a6a" stroke-width="1.0"/>
<text x="710.90" y="419.54" font-size="9" text-anchor="start" font-weight="bold" font-family='"Liberation Serif", serif' stroke="#000" stroke-width="0.2" >0.4</text>
<line x1="700.50" y1="389.46" x2="703.60" y2="389.46" stroke="#6a6a6a" stroke-width="1.0"/>
<text x="710.90" y="392.56" font-size="9" text-anchor="start" font-weight="bold" font-family='"Liberation Serif", serif' stroke="#000" stroke-width="0.2" >0.6</text>
<line x1="700.50" y1="362.48" x2="703.60" y2="362.48" stroke="#6a6a6a" stroke-width="1.0"/>
<text x="710.90" y="365.58" font-size="9" text-anchor="start" font-weight="bold" font-family='"Liberation Serif", serif' stroke="#000" stroke-width="0.2" >0.8</text>
<line x1="700.50" y1="335.50" x2="703.60" y2="335.50" stroke="#6a6a6a" stroke-width="1.0"/>
<text x="710.90" y="338.60" font-size="9" text-anchor="start" font-weight="bold" font-family='"Liberation Serif", serif' stroke="#000" stroke-width="0.2" >1.0</text>
<line x1="700.50" y1="308.52" x2="703.60" y2="308.52" stroke="#6a6a6a" stroke-width="1.0"/>
<text x="710.90" y="311.62" font-size="9" text-anchor="start" font-weight="bold" font-family='"Liberation Serif", serif' stroke="#000" stroke-width="0.2" >1.2</text>
<line x1="700.50" y1="281.54" x2="703.60" y2="281.54" stroke="#6a6a6a" stroke-width="1.0"/>
<text x="710.90" y="284.64" font-size="9" text-anchor="start" font-weight="bold" font-family='"Liberation Serif", serif' stroke="#000" stroke-width="0.2" >1.4</text>
<line x1="436.30" y1="477.50" x2="436.30" y2="480.60" stroke="#6a6a6a" stroke-width="1.0"/>
<text x="436.30" y="493.60" font-size="9" text-anchor="middle" font-weight="bold" font-family='"Liberation Serif", serif' stroke="#000" stroke-width="0.2" >0</text>
<line x1="478.92" y1="477.50" x2="478.92" y2="480.60" stroke="#6a6a6a" stroke-width="1.0"/>
<text x="478.92" y="493.60" font-size="9" text-anchor="middle" font-weight="bold" font-family='"Liberation Serif", serif' stroke="#000" stroke-width="0.2" >1</text>
<line x1="521.54" y1="477.50" x2="521.54" y2="480.60" stroke="#6a6a6a" stroke-width="1.0"/>
<text x="521.54" y="493.60" font-size="9" text-anchor="middle" font-weight="bold" font-family='"Liberation Serif", serif' stroke="#000" stroke-width="0.2" >2</text>
<line x1="564.16" y1="477.50" x2="564.16" y2="480.60" stroke="#6a6a6a" stroke-width="1.0"/>
<text x="564.16" y="493.60" font-size="9" text-anchor="middle" font-weight="bold" font-family='"Liberation Serif", serif' stroke="#000" stroke-width="0.2" >3</text>
<line x1="606.78" y1="477.50" x2="606.78" y2="480.60" stroke="#6a6a6a" stroke-width="1.0"/>
<text x="606.78" y="493.60" font-size="9" text-anchor="middle" font-weight="bold" font-family='"Liberation Serif", serif' stroke="#000" stroke-width="0.2" >4</text>
<line x1="649.40" y1="477.50" x2="649.40" y2="480.60" stroke="#6a6a6a" stroke-width="1.0"/>
<text x="649.40" y="493.60" font-size="9" text-anchor="middle" font-weight="bold" font-family='"Liberation Serif", serif' stroke="#000" stroke-width="0.2" >5</text>
<line x1="692.02" y1="477.50" x2="692.02" y2="480.60" stroke="#6a6a6a" stroke-width="1.0"/>
<text x="692.02" y="493.60" font-size="9" text-anchor="middle" font-weight="bold" font-family='"Liberation Serif", serif' stroke="#000" stroke-width="0.2" >6</text>
<text x="563.00" y="507.50" font-size="12.1" text-anchor="middle" font-weight="bold" font-family='"Liberation Serif", serif' stroke="#000" stroke-width="0.25" >time (day)</text>
<text transform="translate(402.60,379.25) rotate(-90)" x="0" y="0" font-size="12.1" text-anchor="middle" font-weight="bold" font-family='"Liberation Serif", serif' stroke="#000" stroke-width="0.25">CH<tspan font-size="10.8" dy="2.4">4</tspan><tspan dy="-2.4"> (%)</tspan></text>
<text transform="translate(737.60,377.90) rotate(-90)" x="0" y="0" font-size="12" text-anchor="middle" font-weight="bold" font-family='"Liberation Serif", serif' stroke="#000" stroke-width="0.25">A<tspan font-size="12" dy="4.0">600</tspan></text>
<path d="M436.30,294.83 L437.58,295.23 L438.87,295.63 L440.15,296.05 L441.44,296.48 L442.72,296.92 L444.01,297.38 L445.29,297.85 L446.58,298.33 L447.86,298.82 L449.15,299.33 L450.43,299.85 L451.72,300.38 L453.00,300.92 L454.29,301.47 L455.57,302.04 L456.86,302.61 L458.14,303.20 L459.43,303.80 L460.71,304.41 L462.00,305.03 L463.28,305.66 L464.57,306.30 L465.85,306.96 L467.14,307.62 L468.42,308.29 L469.71,308.98 L470.99,309.67 L472.28,310.37 L473.56,311.09 L474.85,311.81 L476.13,312.54 L477.42,313.28 L478.70,314.03 L479.99,314.79 L481.27,315.56 L482.56,316.33 L483.84,317.12 L485.13,317.91 L486.41,318.71 L487.70,319.52 L488.98,320.34 L490.27,321.17 L491.55,322.00 L492.84,322.84 L494.12,323.68 L495.41,324.54 L496.69,325.40 L497.98,326.27 L499.26,327.14 L500.55,328.02 L501.83,328.91 L503.12,329.81 L504.40,330.70 L505.69,331.61 L506.97,332.52 L508.26,333.44 L509.54,334.36 L510.83,335.29 L512.11,336.22 L513.40,337.16 L514.68,338.10 L515.97,339.04 L517.25,339.99 L518.54,340.95 L519.82,341.91 L521.11,342.87 L522.39,343.84 L523.67,344.81 L524.96,345.78 L526.24,346.75 L527.53,347.73 L528.81,348.72 L530.10,349.70 L531.38,350.69 L532.67,351.68 L533.95,352.67 L535.24,353.66 L536.52,354.66 L537.81,355.65 L539.09,356.65 L540.38,357.65 L541.66,358.65 L542.95,359.65 L544.23,360.65 L545.52,361.65 L546.80,362.66 L548.09,363.66 L549.37,364.66 L550.66,365.66 L551.94,366.66 L553.23,367.66 L554.51,368.66 L555.80,369.66 L557.08,370.66 L558.37,371.65 L559.65,372.65 L560.94,373.64 L562.22,374.63 L563.51,375.62 L564.79,376.61 L566.08,377.59 L567.36,378.57 L568.65,379.55 L569.93,380.52 L571.22,381.49 L572.50,382.46 L573.79,383.42 L575.07,384.38 L576.36,385.34 L577.64,386.29 L578.93,387.23 L580.21,388.17 L581.50,389.11 L582.78,390.04 L584.07,390.96 L585.35,391.88 L586.64,392.80 L587.92,393.71 L589.21,394.61 L590.49,395.50 L591.78,396.39 L593.06,397.27 L594.35,398.14 L595.63,399.01 L596.92,399.87 L598.20,400.72 L599.49,401.56 L600.77,402.40 L602.06,403.22 L603.34,404.04 L604.63,404.85 L605.91,405.65 L607.19,406.44 L608.48,407.22 L609.76,407.99 L611.05,408.75 L612.33,409.50 L613.62,410.24 L614.90,410.97 L616.19,411.69 L617.47,412.40 L618.76,413.09 L620.04,413.78 L621.33,414.45 L622.61,415.11 L623.90,415.76 L625.18,416.40 L626.47,417.02 L627.75,417.63 L629.04,418.22 L630.32,418.81 L631.61,419.38 L632.89,419.93 L634.18,420.47 L635.46,421.00 L636.75,421.51 L638.03,422.01 L639.32,422.49 L640.60,422.96 L641.89,423.41 L643.17,423.85 L644.46,424.26 L645.74,424.67 L647.03,425.05 L648.31,425.42 L649.60,425.78 L650.88,426.11 L652.17,426.43 L653.45,426.73 L654.74,427.01 L656.02,427.27 L657.31,427.52 L658.59,427.74 L659.88,427.95 L661.16,428.13 L662.45,428.30 L663.73,428.45 L665.02,428.58 L666.30,428.68 L667.59,428.77 L668.87,428.84 L670.16,428.88 L671.44,428.90 L672.73,428.91 L674.01,428.88 L675.30,428.84 L676.58,428.78 L677.87,428.69 L679.15,428.58 L680.44,428.44 L681.72,428.29 L683.01,428.10 L684.29,427.90 L685.58,427.67 L686.86,427.41 L688.15,427.13 L689.43,426.83 L690.72,426.50 L692.00,426.14" fill="none" stroke="#333" stroke-width="1.0" stroke-linejoin="round"/>
<path d="M436.30,467.05 L437.58,466.87 L438.87,466.69 L440.15,466.49 L441.44,466.28 L442.72,466.07 L444.01,465.84 L445.29,465.60 L446.58,465.35 L447.86,465.09 L449.15,464.82 L450.43,464.53 L451.72,464.23 L453.00,463.91 L454.29,463.58 L455.57,463.23 L456.86,462.86 L458.14,462.48 L459.43,462.08 L460.71,461.66 L462.00,461.23 L463.28,460.77 L464.57,460.29 L465.85,459.79 L467.14,459.26 L468.42,458.72 L469.71,458.15 L470.99,457.55 L472.28,456.93 L473.56,456.28 L474.85,455.60 L476.13,454.90 L477.42,454.16 L478.70,453.40 L479.99,452.61 L481.27,451.78 L482.56,450.92 L483.84,450.03 L485.13,449.10 L486.41,448.14 L487.70,447.15 L488.98,446.11 L490.27,445.05 L491.55,443.94 L492.84,442.80 L494.12,441.62 L495.41,440.41 L496.69,439.15 L497.98,437.86 L499.26,436.53 L500.55,435.17 L501.83,433.76 L503.12,432.32 L504.40,430.84 L505.69,429.33 L506.97,427.78 L508.26,426.20 L509.54,424.59 L510.83,422.94 L512.11,421.27 L513.40,419.56 L514.68,417.83 L515.97,416.07 L517.25,414.29 L518.54,412.49 L519.82,410.67 L521.11,408.82 L522.39,406.97 L523.67,405.10 L524.96,403.22 L526.24,401.33 L527.53,399.43 L528.81,397.53 L530.10,395.63 L531.38,393.74 L532.67,391.84 L533.95,389.96 L535.24,388.08 L536.52,386.21 L537.81,384.36 L539.09,382.52 L540.38,380.70 L541.66,378.91 L542.95,377.13 L544.23,375.38 L545.52,373.65 L546.80,371.96 L548.09,370.29 L549.37,368.65 L550.66,367.05 L551.94,365.48 L553.23,363.94 L554.51,362.44 L555.80,360.97 L557.08,359.54 L558.37,358.14 L559.65,356.79 L560.94,355.47 L562.22,354.19 L563.51,352.94 L564.79,351.74 L566.08,350.57 L567.36,349.44 L568.65,348.34 L569.93,347.29 L571.22,346.27 L572.50,345.28 L573.79,344.33 L575.07,343.41 L576.36,342.53 L577.64,341.68 L578.93,340.86 L580.21,340.07 L581.50,339.32 L582.78,338.59 L584.07,337.90 L585.35,337.23 L586.64,336.59 L587.92,335.97 L589.21,335.38 L590.49,334.82 L591.78,334.28 L593.06,333.76 L594.35,333.27 L595.63,332.79 L596.92,332.34 L598.20,331.91 L599.49,331.49 L600.77,331.10 L602.06,330.72 L603.34,330.36 L604.63,330.02 L605.91,329.69 L607.19,329.38 L608.48,329.08 L609.76,328.79 L611.05,328.52 L612.33,328.26 L613.62,328.02 L614.90,327.78 L616.19,327.56 L617.47,327.35 L618.76,327.14 L620.04,326.95 L621.33,326.77 L622.61,326.59 L623.90,326.42 L625.18,326.26 L626.47,326.11 L627.75,325.97 L629.04,325.83 L630.32,325.70 L631.61,325.58 L632.89,325.46 L634.18,325.35 L635.46,325.24 L636.75,325.14 L638.03,325.04 L639.32,324.95 L640.60,324.86 L641.89,324.78 L643.17,324.70 L644.46,324.63 L645.74,324.56 L647.03,324.49 L648.31,324.42 L649.60,324.36 L650.88,324.30 L652.17,324.25 L653.45,324.20 L654.74,324.15 L656.02,324.10 L657.31,324.05 L658.59,324.01 L659.88,323.97 L661.16,323.93 L662.45,323.89 L663.73,323.86 L665.02,323.83 L666.30,323.79 L667.59,323.76 L668.87,323.74 L670.16,323.71 L671.44,323.68 L672.73,323.66 L674.01,323.64 L675.30,323.61 L676.58,323.59 L677.87,323.57 L679.15,323.55 L680.44,323.54 L681.72,323.52 L683.01,323.50 L684.29,323.49 L685.58,323.47 L686.86,323.46 L688.15,323.44 L689.43,323.43 L690.72,323.42 L692.00,323.41" fill="none" stroke="#333" stroke-width="1.0" stroke-linejoin="round"/>
<line x1="436.30" y1="288.50" x2="436.30" y2="297.25" stroke="#717171" stroke-width="1.0"/>
<line x1="433.20" y1="288.50" x2="439.40" y2="288.50" stroke="#717171" stroke-width="1.0"/>
<line x1="433.20" y1="297.25" x2="439.40" y2="297.25" stroke="#717171" stroke-width="1.0"/>
<line x1="436.30" y1="446.50" x2="436.30" y2="461.25" stroke="#717171" stroke-width="1.0"/>
<line x1="433.20" y1="446.50" x2="439.40" y2="446.50" stroke="#717171" stroke-width="1.0"/>
<line x1="433.20" y1="461.25" x2="439.40" y2="461.25" stroke="#717171" stroke-width="1.0"/>
<line x1="478.92" y1="312.50" x2="478.92" y2="326.25" stroke="#717171" stroke-width="1.0"/>
<line x1="475.82" y1="312.50" x2="482.02" y2="312.50" stroke="#717171" stroke-width="1.0"/>
<line x1="475.82" y1="326.25" x2="482.02" y2="326.25" stroke="#717171" stroke-width="1.0"/>
<line x1="478.92" y1="426.50" x2="478.92" y2="448.10" stroke="#717171" stroke-width="1.0"/>
<line x1="475.82" y1="426.50" x2="482.02" y2="426.50" stroke="#717171" stroke-width="1.0"/>
<line x1="475.82" y1="448.10" x2="482.02" y2="448.10" stroke="#717171" stroke-width="1.0"/>
<line x1="521.54" y1="327.25" x2="521.54" y2="351.00" stroke="#717171" stroke-width="1.0"/>
<line x1="518.44" y1="327.25" x2="524.64" y2="327.25" stroke="#717171" stroke-width="1.0"/>
<line x1="518.44" y1="351.00" x2="524.64" y2="351.00" stroke="#717171" stroke-width="1.0"/>
<line x1="521.54" y1="424.25" x2="521.54" y2="430.25" stroke="#717171" stroke-width="1.0"/>
<line x1="518.44" y1="424.25" x2="524.64" y2="424.25" stroke="#717171" stroke-width="1.0"/>
<line x1="518.44" y1="430.25" x2="524.64" y2="430.25" stroke="#717171" stroke-width="1.0"/>
<line x1="564.16" y1="368.75" x2="564.16" y2="375.60" stroke="#717171" stroke-width="1.0"/>
<line x1="561.06" y1="368.75" x2="567.26" y2="368.75" stroke="#717171" stroke-width="1.0"/>
<line x1="561.06" y1="375.60" x2="567.26" y2="375.60" stroke="#717171" stroke-width="1.0"/>
<line x1="564.16" y1="323.75" x2="564.16" y2="345.60" stroke="#717171" stroke-width="1.0"/>
<line x1="561.06" y1="323.75" x2="567.26" y2="323.75" stroke="#717171" stroke-width="1.0"/>
<line x1="561.06" y1="345.60" x2="567.26" y2="345.60" stroke="#717171" stroke-width="1.0"/>
<line x1="606.78" y1="406.25" x2="606.78" y2="418.40" stroke="#717171" stroke-width="1.0"/>
<line x1="603.68" y1="406.25" x2="609.88" y2="406.25" stroke="#717171" stroke-width="1.0"/>
<line x1="603.68" y1="418.40" x2="609.88" y2="418.40" stroke="#717171" stroke-width="1.0"/>
<line x1="606.78" y1="332.50" x2="606.78" y2="338.75" stroke="#717171" stroke-width="1.0"/>
<line x1="603.68" y1="332.50" x2="609.88" y2="332.50" stroke="#717171" stroke-width="1.0"/>
<line x1="603.68" y1="338.75" x2="609.88" y2="338.75" stroke="#717171" stroke-width="1.0"/>
<line x1="649.40" y1="416.50" x2="649.40" y2="428.50" stroke="#717171" stroke-width="1.0"/>
<line x1="646.30" y1="416.50" x2="652.50" y2="416.50" stroke="#717171" stroke-width="1.0"/>
<line x1="646.30" y1="428.50" x2="652.50" y2="428.50" stroke="#717171" stroke-width="1.0"/>
<line x1="649.40" y1="324.20" x2="649.40" y2="327.60" stroke="#717171" stroke-width="1.0"/>
<line x1="646.30" y1="324.20" x2="652.50" y2="324.20" stroke="#717171" stroke-width="1.0"/>
<line x1="646.30" y1="327.60" x2="652.50" y2="327.60" stroke="#717171" stroke-width="1.0"/>
<line x1="692.02" y1="420.50" x2="692.02" y2="433.40" stroke="#717171" stroke-width="1.0"/>
<line x1="688.92" y1="420.50" x2="695.12" y2="420.50" stroke="#717171" stroke-width="1.0"/>
<line x1="688.92" y1="433.40" x2="695.12" y2="433.40" stroke="#717171" stroke-width="1.0"/>
<line x1="692.02" y1="323.80" x2="692.02" y2="327.00" stroke="#717171" stroke-width="1.0"/>
<line x1="688.92" y1="323.80" x2="695.12" y2="323.80" stroke="#717171" stroke-width="1.0"/>
<line x1="688.92" y1="327.00" x2="695.12" y2="327.00" stroke="#717171" stroke-width="1.0"/>
<circle cx="436.30" cy="293.10" r="2.65" fill="#e80a0a" stroke="#580000" stroke-width="0.8"/>
<circle cx="436.30" cy="453.75" r="2.65" fill="#1ee81e" stroke="#084208" stroke-width="0.8"/>
<circle cx="478.92" cy="319.60" r="2.65" fill="#e80a0a" stroke="#580000" stroke-width="0.8"/>
<circle cx="478.92" cy="437.25" r="2.65" fill="#1ee81e" stroke="#084208" stroke-width="0.8"/>
<circle cx="521.54" cy="339.10" r="2.65" fill="#e80a0a" stroke="#580000" stroke-width="0.8"/>
<circle cx="521.54" cy="427.25" r="2.65" fill="#1ee81e" stroke="#084208" stroke-width="0.8"/>
<circle cx="564.16" cy="372.25" r="2.65" fill="#e80a0a" stroke="#580000" stroke-width="0.8"/>
<circle cx="564.16" cy="334.75" r="2.65" fill="#1ee81e" stroke="#084208" stroke-width="0.8"/>
<circle cx="606.78" cy="412.50" r="2.65" fill="#e80a0a" stroke="#580000" stroke-width="0.8"/>
<circle cx="606.78" cy="335.90" r="2.65" fill="#1ee81e" stroke="#084208" stroke-width="0.8"/>
<circle cx="649.40" cy="422.50" r="2.65" fill="#e80a0a" stroke="#580000" stroke-width="0.8"/>
<circle cx="649.40" cy="325.90" r="2.65" fill="#1ee81e" stroke="#084208" stroke-width="0.8"/>
<circle cx="692.02" cy="426.70" r="2.65" fill="#e80a0a" stroke="#580000" stroke-width="0.8"/>
<circle cx="692.02" cy="325.40" r="2.65" fill="#1ee81e" stroke="#084208" stroke-width="0.8"/>
<text x="393.10" y="269.75" font-size="18" text-anchor="start" font-weight="bold" font-family='"Liberation Sans", sans-serif' >d</text>
</svg>
</body></html>
